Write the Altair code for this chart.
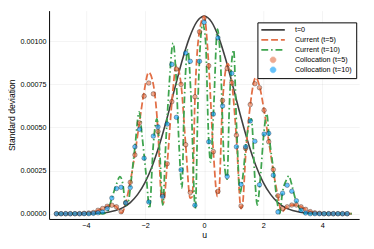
import altair as alt
import pandas as pd

# ---------------- data ----------------
series_order = ["t=0", "Current (t=5)", "Current (t=10)", "Collocation (t=5)", "Collocation (t=10)"]
series_colors = ["#404040", "#E26F46", "#3EA44E", "#E26F46", "#009AFA"]

# t=0 curve
u_t0 = [-5.0, -4.75, -4.5, -4.25, -4.0, -3.75, -3.5, -3.25, -3.0, -2.75, -2.5, -2.25, -2.0,
        -1.75, -1.5, -1.25, -1.0, -0.75, -0.5, -0.25, 0.0, 0.25, 0.5, 0.75, 1.0, 1.25,
        1.5, 1.75, 2.0, 2.25, 2.5, 2.75, 3.0, 3.25, 3.5, 3.75, 4.0, 4.25, 4.5, 4.75, 5.0]
v_t0 = [0.0, 0.0, 0.0000001, 0.0000003, 0.0000007, 0.0000018, 0.0000041, 0.0000089, 0.0000182,
        0.0000354, 0.0000646, 0.000112, 0.000182, 0.00028, 0.000407, 0.000558, 0.000723,
        0.000884, 0.00102, 0.001113, 0.001145, 0.001113, 0.00102, 0.000884, 0.000723,
        0.000558, 0.000407, 0.00028, 0.000182, 0.000112, 0.0000646, 0.0000354, 0.0000182,
        0.0000089, 0.0000041, 0.0000018, 0.0000007, 0.0000003, 0.0000001, 0.0, 0.0]

# Current (t=5) curve
u_c5 = [-5.0, -4.2, -3.9, -3.75, -3.59, -3.44, -3.28, -3.125, -2.97, -2.85, -2.78, -2.66, -2.5,
        -2.34, -2.19, -2.03, -1.88, -1.72, -1.5625, -1.45, -1.38, -1.25, -1.09, -0.94, -0.78,
        -0.625, -0.47, -0.4, -0.31, -0.156, 0.0, 0.156, 0.3125, 0.45, 0.5, 0.625, 0.8, 0.94,
        1.09, 1.25, 1.3, 1.41, 1.5625, 1.75, 1.875, 2.03, 2.19, 2.34, 2.5, 2.62, 2.81, 2.97,
        3.125, 3.28, 3.44, 3.6, 3.75, 4.0, 4.2, 5.0]
v_c5 = [0.0, 0.0, 0.000002, 0.000007, 0.00002, 0.00003, 0.000043, 0.00005, 0.00004, 0.00001,
        0.000005, 0.00006, 0.000185, 0.00035, 0.00053, 0.00071, 0.00082, 0.00075, 0.00048,
        0.0001, 0.00006, 0.00029, 0.00065, 0.00086, 0.00075, 0.0004, 0.00009, 0.0001, 0.00067,
        0.00106, 0.001145, 0.00086, 0.00036, 0.0001, 0.00012, 0.00065, 0.00087, 0.00076,
        0.00045, 0.00003, 0.00005, 0.00035, 0.00063, 0.00079, 0.00074, 0.0006, 0.00042,
        0.00025, 0.0001, 0.00001, 0.00004, 0.00005, 0.00005, 0.00004, 0.000025, 0.000012,
        0.000005, 0.000001, 0.0, 0.0]

# Current (t=10) curve
u_c10 = [-5.0, -3.6, -3.45, -3.28, -3.125, -2.97, -2.85, -2.75, -2.66, -2.55, -2.5, -2.34, -2.2,
         -2.1, -1.95, -1.85, -1.72, -1.6, -1.5, -1.4, -1.3, -1.2, -1.05, -0.95, -0.85, -0.75,
         -0.68, -0.55, -0.45, -0.3, -0.2, -0.05, 0.05, 0.15, 0.22, 0.32, 0.45, 0.55, 0.68, 0.78,
         0.85, 1.0, 1.1, 1.22, 1.3, 1.45, 1.6, 1.72, 1.8, 1.9, 2.03, 2.12, 2.2, 2.35, 2.5, 2.56,
         2.65, 2.8, 2.87, 2.95, 3.1, 3.28, 3.45, 3.6, 5.0]
v_c10 = [0.0, 0.0, 0.0, 0.00001, 0.00009, 0.00017, 0.000215, 0.00017, 0.00005, 0.00008, 0.00015,
         0.00039, 0.00059, 0.00045, 0.0002, 0.00003, 0.0004, 0.00055, 0.00035, 0.00005, 0.0004,
         0.0007, 0.00099, 0.0008, 0.0004, 0.00015, 0.0006, 0.00095, 0.0007, 0.00003, 0.0007,
         0.0011, 0.001, 0.00045, 0.0003, 0.0006, 0.00107, 0.0009, 0.0003, 0.0002, 0.0006,
         0.00095, 0.0005, 0.00012, 0.0002, 0.00045, 0.00055, 0.0002, 0.00005, 0.0002, 0.00048,
         0.00058, 0.00045, 0.00025, 0.00004, 0.0, 0.00012, 0.0002, 0.00022, 0.00018, 0.00008,
         0.00002, 0.0, 0.0, 0.0]

# collocation grid (64 points, step 0.15625 from -5)
u_grid = [-5 + k * 0.15625 for k in range(64)]
v_col5 = [0, 0, 0, 0, 0, 0, 0.000002, 0.000004, 0.000007, 0.00002, 0.00003, 0.000043,
          0.000049, 0.00004, 0.000011, 0.000062, 0.000182, 0.000341, 0.000527, 0.000682,
          0.000758, 0.000695, 0.000477, 0.000108, 0.00029, 0.00065, 0.000839, 0.00075,
          0.0004, 0.000123, 0.000678, 0.001055, 0.001136, 0.000858, 0.00036, 0.00013,
          0.000657, 0.000843, 0.00076, 0.000455, 0.000045, 0.000379, 0.000633, 0.000754,
          0.000731, 0.0006, 0.000417, 0.000256, 0.000104, 0.00003, 0.00004, 0.00005, 0.00005,
          0.00004, 0.000025, 0.000012, 0.000005, 0.000002, 0, 0, 0, 0, 0, 0]
v_col10 = [0, 0, 0, 0, 0, 0, 0, 0, 0.000002, 0.000005, 0.00001, 0.00003, 0.000091, 0.000146,
           0.000153, 0.0000625, 0.000152, 0.000388, 0.00049, 0.000322, 0.000068, 0.00045,
           0.000504, 0.0001, 0.00052, 0.000866, 0.000559, 0.000254, 0.000932, 0.000884,
           0.000049, 0.000884, 0.00111, 0.000417, 0.000578, 0.00102, 0.000625, 0.000216,
           0.000814, 0.000388, 0.00017, 0.000388, 0.000538, 0.00042, 0.000168, 0.000462,
           0.000466, 0.000223, 0.00001, 0.000119, 0.000165, 0.00013, 0.000075, 0.00002,
           0.000004, 0, 0, 0, 0, 0, 0, 0, 0, 0]

y_ticks = [0.0, 0.00025, 0.0005, 0.00075, 0.001]
x_ticks = [-4, -2, 0, 2, 4]

# ---------------- build tables ----------------
df_t0 = pd.DataFrame({"u": u_t0, "v": v_t0, "series": "t=0"})
df_c5 = pd.DataFrame({"u": u_c5, "v": v_c5, "series": "Current (t=5)"})
df_c10 = pd.DataFrame({"u": u_c10, "v": v_c10, "series": "Current (t=10)"})
df_p5 = pd.DataFrame({"u": u_grid, "v": v_col5, "series": "Collocation (t=5)"})
df_p10 = pd.DataFrame({"u": u_grid, "v": v_col10, "series": "Collocation (t=10)"})

FONT = "Liberation Sans"

xs = alt.X("u:Q", scale=alt.Scale(domain=[-5.25, 5.25], nice=False, zero=False),
           axis=alt.Axis(values=x_ticks, title="u", format="d"))
ys = alt.Y("v:Q", scale=alt.Scale(domain=[-0.0000307, 0.001178], nice=False, zero=False),
           axis=alt.Axis(values=y_ticks, title="Standard deviation", format=".5f"))

# small circle drawn inside the 24px legend symbol box
SMALL_CIRCLE = "M0.25,0A0.25,0.25,0,1,1,-0.25,0A0.25,0.25,0,1,1,0.25,0Z"

E = alt.ExprRef
legend = alt.Legend(
    title=None, orient="none", legendX=213, legendY=12,
    padding=4, strokeColor="black", fillColor="white", cornerRadius=0,
    labelFont=FONT, labelFontSize=7.4, labelColor="black",
    symbolOffset=8.3, labelOffset=18.6,
    labelExpr="datum.label + '\u00a0\u00a0\u00a0\u00a0'",
    rowPadding=1.2,
    symbolSize=576,
    symbolType=E(expr=f"datum.index < 3 ? 'stroke' : '{SMALL_CIRCLE}'"),
    symbolStrokeColor=E(expr="datum.index == 0 ? '#404040' : datum.index == 1 ? '#E26F46' : "
                             "datum.index == 2 ? '#3EA44E' : '#555555'"),
    symbolStrokeWidth=E(expr="datum.index < 3 ? 1.8 : 0.6"),
    symbolDash=E(expr="datum.index == 1 ? [7, 3] : datum.index == 2 ? [7, 3, 1.5, 3] : [1, 0]"),
    symbolOpacity=E(expr="datum.index >= 3 ? 0.6 : 1"),
)

color = alt.Color("series:N", scale=alt.Scale(domain=series_order, range=series_colors),
                  legend=legend)

l_t0 = alt.Chart(df_t0).mark_line(strokeWidth=1.6, interpolate="monotone").encode(
    x=xs, y=ys, color=color)
l_c5 = alt.Chart(df_c5).mark_line(strokeWidth=1.8, strokeDash=[7, 3], interpolate="monotone").encode(
    x=xs, y=ys, color=color)
l_c10 = alt.Chart(df_c10).mark_line(strokeWidth=1.8, strokeDash=[7, 3, 1.5, 3],
                                    interpolate="monotone").encode(x=xs, y=ys, color=color)
p5 = alt.Chart(df_p5).mark_circle(size=22, fillOpacity=0.6, stroke="black", strokeWidth=0.6,
                                  strokeOpacity=0.5).encode(x=xs, y=ys, color=color)
p10 = alt.Chart(df_p10).mark_circle(size=22, fillOpacity=0.6, stroke="black", strokeWidth=0.6,
                                    strokeOpacity=0.5).encode(x=xs, y=ys, color=color)

chart = alt.layer(l_t0, l_c5, l_c10, p5, p10).properties(
    width=317, height=213,
    autosize=alt.AutoSizeParams(type="none"),
    padding={"left": 42, "top": 0, "right": 7, "bottom": 28},
).configure_view(stroke=None).configure_axis(
    labelFont=FONT, labelFontSize=7.4, labelColor="black",
    titleFont=FONT, titleFontSize=8.8, titleFontWeight="normal", titleColor="black",
    domainColor="black", domainWidth=1, ticks=False,
    gridColor="black", gridOpacity=0.1, gridWidth=0.5,
    labelPadding=3,
).configure_axisY(titlePadding=4, labelPadding=3).configure_axisX(titlePadding=2)

chart.save("out.html", embed_options={"renderer": "svg", "actions": False})
